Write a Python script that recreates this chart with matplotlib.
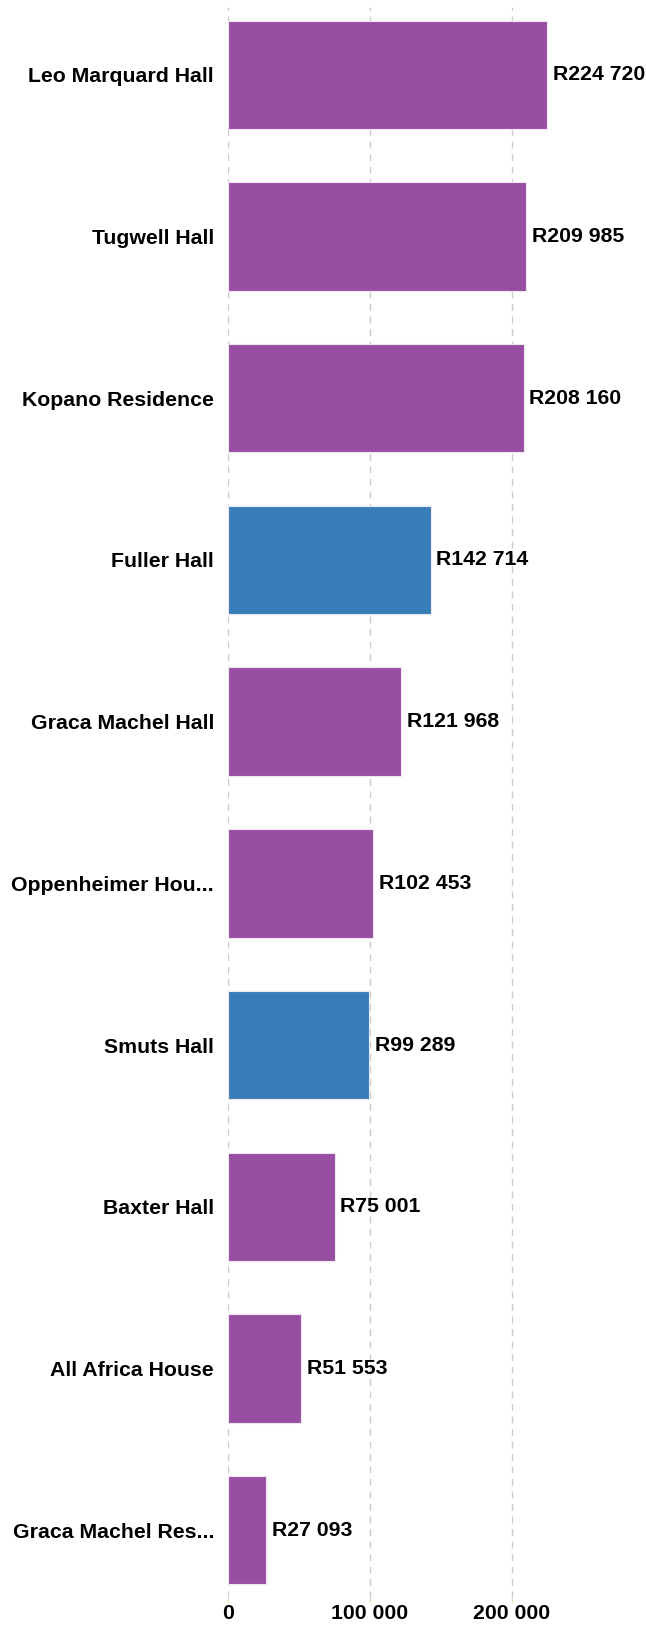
import matplotlib.pyplot as plt

plt.rcParams['font.family'] = ['Liberation Sans', 'DejaVu Sans']

halls = ['Leo Marquard Hall', 'Tugwell Hall', 'Kopano Residence', 'Fuller Hall',
         'Graca Machel Hall', 'Oppenheimer Hou...', 'Smuts Hall', 'Baxter Hall',
         'All Africa House', 'Graca Machel Res...']
amounts = [224720, 209985, 208160, 142714, 121968, 102453, 99289, 75001, 51553, 27093]
groups = ['p', 'p', 'p', 'b', 'p', 'p', 'b', 'p', 'p', 'p']
ticks = [0, 100000, 200000]

palette = {'p': '#984ea3', 'b': '#377eb8'}
colors = [palette[g] for g in groups]

W, H = 646, 1625
fig = plt.figure(figsize=(W / 100, H / 100), dpi=100)
left, right, top, bottom = 228, 645, 7, 1598
ax = fig.add_axes([left / W, 1 - bottom / H, (right - left) / W, (bottom - top) / H])

pos = list(range(len(halls)))
ax.barh(pos, amounts, height=0.67, color=colors, edgecolor='#f0e6f2', linewidth=0.8, zorder=2)

fs = 15.3
for y, v in zip(pos, amounts):
    ax.text(v + 4000, y, 'R' + f'{v:,}'.replace(',', ' '), va='center', ha='left',
            fontsize=fs, fontweight='bold', color='black')

ax.set_xlim(0, 100000 * (right - left) / 142)
ax.set_ylim(9.42, -0.42)
ax.set_yticks(pos)
ax.set_yticklabels(halls, fontsize=fs, fontweight='bold')
ax.set_xticks(ticks)
ax.set_xticklabels([f'{t:,}'.replace(',', ' ') for t in ticks], fontsize=fs, fontweight='bold')
ax.tick_params(axis='y', length=0, pad=10)
ax.tick_params(axis='x', length=3, color='#f5d0a0', pad=1)
ax.grid(axis='x', color='#cccccc', linestyle=(0, (5, 4)), linewidth=1, zorder=0)
for s in ax.spines.values():
    s.set_visible(False)

fig.savefig('out.png', dpi=100)
